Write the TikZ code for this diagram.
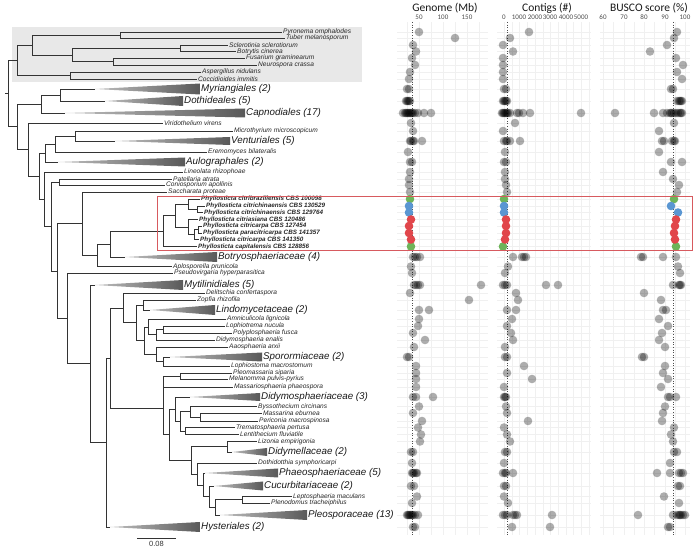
\documentclass[tikz,border=0pt]{standalone}
\usepackage{fontspec}
\setmainfont{Liberation Sans}
\newfontfamily\calib{Carlito}
\definecolor{phygreen}{RGB}{110,180,90}
\definecolor{phyblue}{RGB}{90,150,210}
\definecolor{phyred}{RGB}{225,70,75}
\definecolor{boxred}{RGB}{215,90,95}
\begin{document}
\begin{tikzpicture}
  [x=1pt,y=-1pt,
   every node/.style={inner sep=1pt},
   tip/.style={anchor=west,font=\fontsize{6.6}{7}\selectfont\itshape,text=black!85},
   phy/.style={tip,font=\fontsize{6.3}{7}\selectfont\bfseries\itshape,text=black!85},
   clade/.style={anchor=west,font=\fontsize{9.8}{10}\selectfont\itshape,text=black!90},
   branch/.style={draw=black!80,line width=0.6pt},
   wedge/.style={left color=black!25,right color=black!65,draw=none},
   gridline/.style={draw=black!6,line width=0.4pt},
   refline/.style={draw=black!70,dotted,line width=0.6pt},
   dot/.style={fill=black,fill opacity=0.32},
   title/.style={font=\calib\fontsize{11.5}{12}\selectfont,text=black!90},
   ticklab/.style={font=\calib\fontsize{7}{8}\selectfont,text=black!70}]
  \useasboundingbox (0,0) rectangle (697,553);

  % backgrounds
  \fill[black!9] (12,27) rectangle (362,82);

  % grid of the three panels
  \foreach \y in {32,38,45,51.5,58,65,72,79,89,101,113,123,131,141,152,162,172,179,185,192,199,206,212.5,219.5,226,233,239.5,246.5,257,266.5,273,285,293,300,310,319,326,333,340,347,357,366,373,379,387,397,406.5,413,421,427.5,434.5,441.5,452,463,473,486,496.5,503,515,527}
  {
    \draw[gridline] (397,\y) -- (488,\y);
    \draw[gridline] (497,\y) -- (591,\y);
    \draw[gridline] (600,\y) -- (690,\y);
  }
  \foreach \x in {407,419,431,443,455,467,479,
                  504,512,519,527,535,543,550,558,566,573,581,589,
                  603,613,624,634,644,654,665,675,685}
    \draw[gridline] (\x,22) -- (\x,535);

  \node[title] (tgen) at (445,8) {Genome (Mb)};
  \node[title] (tcon) at (547,8) {Contigs (\#)};
  \node[title] (tbus) at (649,8) {BUSCO score (\%)};
  \node[ticklab] (g50) at (419,17) {50};
  \node[ticklab] (g100) at (443,17) {100};
  \node[ticklab] (g150) at (467,17) {150};
  \node[ticklab] (c0) at (504,17) {0};
  \node[ticklab] (c1) at (519,17) {1000};
  \node[ticklab] (c2) at (535,17) {2000};
  \node[ticklab] (c3) at (550,17) {3000};
  \node[ticklab] (c4) at (566,17) {4000};
  \node[ticklab] (c5) at (581,17) {5000};
  \node[ticklab] (b60) at (603,17) {60};
  \node[ticklab] (b70) at (624,17) {70};
  \node[ticklab] (b80) at (644,17) {80};
  \node[ticklab] (b90) at (665,17) {90};
  \node[ticklab] (b100) at (685,17) {100};

  \draw[refline] (412,22) -- (412,535);
  \draw[refline] (507,22) -- (507,535);
  \draw[refline] (673,22) -- (673,535);

  % genome sizes
  \foreach \x/\y in {419/32,455/38,413/45,416/51.5,412/58,415/65,410/72,409/79,
    407/89,409/89,406/101,407/101,408/101,409/101,410/101,
    403/113,405/113,406/113,407/113,408/113,409/113,410/113,411/113,412/113,413/113,415/113,418/113,424/113,431/113,
    411/123,413/131,410/141,411/141,413/141,414/141,422/141,408/152,410/162,412/162,
    410/172,409/179,409/185,410/192,413/257,415/257,417/257,420/257,411/266.5,412/273,
    414/285,416/285,418/285,420/285,481/285,410/293,469/300,419/310,429/310,
    419/319,418/326,413/333,425/340,414/347,407/357,409/357,
    416/366,416/373,416/379,416/387,413/397,416/397,433/397,
    419/406.5,413/413,422/421,418/427.5,421/434.5,420/441.5,411/452,413/452,412/463,
    412/473,413/473,414/473,416/473,417/473,411/486,414/486,417/496.5,412/503,
    407/515,408/515,409/515,410/515,411/515,412/515,413/515,415/515,418/515,413/527,415/527}
    \fill[dot] (\x,\y) circle[radius=4.3];
  % contigs
  \foreach \x/\y in {529/32,510/38,503/45,513/51.5,503/58,503/65,503/72,503/79,
    504/89,506/89,503/101,504/101,505/101,506/101,507/101,
    502/113,503/113,504/113,505/113,506/113,507/113,508/113,510/113,517/113,519/113,523/113,530/113,581/113,
    515/123,503/131,504/141,506/141,507/141,510/141,520/141,505/152,504/162,506/162,
    505/172,505/179,506/185,507/192,513/257,522/257,524/257,526/257,508/266.5,505/273,
    503/285,505/285,507/285,546/285,558/285,516/293,518/300,507/310,516/310,
    512/319,507/326,511/333,513/340,505/347,505/357,507/357,
    524/366,507/373,532/379,504/387,504/397,505/397,506/397,
    506/406.5,507/413,528/421,504/427.5,507/434.5,510/441.5,505/452,507/452,504/463,
    503/473,505/473,506/473,513/473,504/486,506/486,504/496.5,508/503,
    503/515,505/515,507/515,513/515,515/515,517/515,552/515,512/527,550/527}
    \fill[dot] (\x,\y) circle[radius=4.3];
  % BUSCO
  \foreach \x/\y in {677/32,674/38,667/45,650/51.5,676/58,683/65,677/72,682/79,
    671/89,673/89,677/101,679/101,680/101,681/101,682/101,
    615/113,654/113,663/113,667/113,670/113,671/113,672/113,674/113,676/113,678/113,680/113,681/113,682/113,
    674/123,659/131,662/141,664/141,672/141,674/141,675/141,659/152,671/162,682/162,
    663/172,673/179,679/185,677/192,641/257,643/257,663/257,676/257,678/266.5,680/273,
    673/285,679/285,680/285,681/285,644/293,661/300,663/310,666/310,
    659/319,668/326,662/333,659/340,665/347,642/357,644/357,
    665/366,663/373,668/379,661/387,668/397,670/397,676/397,
    665/406.5,663/413,662/421,674/427.5,671/434.5,673/441.5,674/452,677/452,670/463,
    657/473,670/473,679/473,681/473,683/473,678/486,680/486,664/496.5,679/503,
    638/515,673/515,677/515,679/515,680/515,681/515,683/515,685/515,668/527,670/527}
    \fill[dot] (\x,\y) circle[radius=4.3];
  % Phyllosticta
  \foreach \x/\y in {410/199,411/246.5,504/199,503/246.5,674/199,676/246.5}
    \fill[phygreen] (\x,\y) circle[radius=4.3];
  \foreach \x/\y in {409/206,409/212.5,504/206,504/212.5,671/206,678/212.5}
    \fill[phyblue] (\x,\y) circle[radius=4.3];
  \foreach \x/\y in {411/219.5,409/226,409/233,411/239.5,506/219.5,506/226,506/233,505/239.5,
                     676/219.5,675/226,674/233,675/239.5}
    \fill[phyred] (\x,\y) circle[radius=4.3];

  % tips
  \node[tip] (pyro) at (282,32) {Pyronema omphalodes};
  \node[tip] (tuber) at (285,38) {Tuber melanosporum};
  \node[tip] (scler) at (228,45) {Sclerotinia sclerotiorum};
  \node[tip] (botry) at (236,51.5) {Botrytis cinerea};
  \node[tip] (fusar) at (245,58) {Fusarium graminearum};
  \node[tip] (neuro) at (257,65) {Neurospora crassa};
  \node[tip] (asper) at (201,72) {Aspergillus nidulans};
  \node[tip] (cocci) at (197,79) {Coccidioides immitis};
  \node[tip] (virid) at (163,123) {Viridothelium virens};
  \node[tip] (micro) at (233,131) {Microthyrium microscopicum};
  \node[tip] (eremo) at (207,152) {Eremomyces bilateralis};
  \node[tip] (lineo) at (183,172) {Lineolata rhizophoae};
  \node[tip] (patel) at (172,179) {Patellaria atrata};
  \node[tip] (conio) at (165,185) {Coniosporium apollinis};
  \node[tip] (sacch) at (167,192) {Saccharata proteae};
  \node[phy] (p1) at (200,199) {Phyllosticta citribraziliensis CBS 100098};
  \node[phy] (p2) at (205,206) {Phyllosticta citrichinaensis CBS 130529};
  \node[phy] (p3) at (203,212.5) {Phyllosticta citrichinaensis CBS 129764};
  \node[phy] (p4) at (198,219.5) {Phyllosticta citriasiana CBS 120486};
  \node[phy] (p5) at (202,226) {Phyllosticta citricarpa CBS 127454};
  \node[phy] (p6) at (202,233) {Phyllosticta paracitricarpa CBS 141357};
  \node[phy] (p7) at (199,239.5) {Phyllosticta citricarpa CBS 141350};
  \node[phy] (p8) at (197,246.5) {Phyllosticta capitalensis CBS 128856};
  \node[tip] (aplos) at (172,266.5) {Aplosporella prunicola};
  \node[tip] (pseud) at (173,273) {Pseudovirgaria hyperparasitica};
  \node[tip] (delit) at (205,293) {Delitschia confertaspora};
  \node[tip] (zopf) at (196,300) {Zopfia rhizofila};
  \node[tip] (amnic) at (226,319) {Amniculicola lignicola};
  \node[tip] (lophi) at (225,326) {Lophiotrema nucula};
  \node[tip] (polyp) at (232,333) {Polyplosphaeria fusca};
  \node[tip] (didy) at (215,340) {Didymosphaeria enalis};
  \node[tip] (aaos) at (228,347) {Aaosphaeria arxii};
  \node[tip] (lophio) at (230,366) {Lophiostoma macrostomum};
  \node[tip] (pleom) at (232,373) {Pleomassaria siparia};
  \node[tip] (melan) at (228,379) {Melanomma pulvis-pyrius};
  \node[tip] (massa) at (233,387) {Massariosphaeria phaeospora};
  \node[tip] (bysso) at (257,406.5) {Byssothecium circinans};
  \node[tip] (masr) at (262,413) {Massarina eburnea};
  \node[tip] (peric) at (258,421) {Periconia macrospinosa};
  \node[tip] (trema) at (235,427.5) {Trematosphaeria pertusa};
  \node[tip] (lenti) at (239,434.5) {Lentithecium fluviatile};
  \node[tip] (lizon) at (257,441.5) {Lizonia empirigonia};
  \node[tip] (dothi) at (257,463) {Dothidotthia symphoricarpi};
  \node[tip] (lepto) at (292,496.5) {Leptosphaeria maculans};
  \node[tip] (pleno) at (270,503) {Plenodomus tracheiphilus};

  % collapsed clades
  \node[clade] (myri) at (200,89) {Myriangiales (2)};
  \node[clade] (doth) at (183,101) {Dothideales (5)};
  \node[clade] (capno) at (245,113) {Capnodiales (17)};
  \node[clade] (ventu) at (230,141) {Venturiales (5)};
  \node[clade] (aulo) at (185,162) {Aulographales (2)};
  \node[clade] (botryo) at (217,257) {Botryosphaeriaceae (4)};
  \node[clade] (myti) at (183,285) {Mytilinidiales (5)};
  \node[clade] (lindo) at (215,310) {Lindomycetaceae (2)};
  \node[clade] (sporo) at (262,357) {Sporormiaceae (2)};
  \node[clade] (dsph) at (260,397) {Didymosphaeriaceae (3)};
  \node[clade] (dmel) at (267,452) {Didymellaceae (2)};
  \node[clade] (phaeo) at (278,473) {Phaeosphaeriaceae (5)};
  \node[clade] (cucu) at (263,486) {Cucurbitariaceae (2)};
  \node[clade] (pleos) at (307,515) {Pleosporaceae (13)};
  \node[clade] (hyst) at (200,527) {Hysteriales (2)};

  \coordinate (myriA) at (95,89);
  \coordinate (dothA) at (105,101);
  \coordinate (capnoA) at (65,113);
  \coordinate (ventuA) at (115,141);
  \coordinate (auloA) at (58,162);
  \coordinate (botryoA) at (125,257);
  \coordinate (mytiA) at (95,285);
  \coordinate (lindoA) at (150,310);
  \coordinate (sporoA) at (170,357);
  \coordinate (dsphA) at (190,397);
  \coordinate (dmelA) at (232,452);
  \coordinate (phaeoA) at (205,473);
  \coordinate (cucuA) at (214,486);
  \coordinate (pleosA) at (220,515);
  \coordinate (hystA) at (110,527);

  \shade[wedge] (myriA) -- ([yshift=5.5pt]myri.west) -- ([yshift=-5.5pt]myri.west) -- cycle;
  \shade[wedge] (dothA) -- ([yshift=5pt]doth.west) -- ([yshift=-5pt]doth.west) -- cycle;
  \shade[wedge] (capnoA) -- ([yshift=4.5pt]capno.west) -- ([yshift=-4.5pt]capno.west) -- cycle;
  \shade[wedge] (ventuA) -- ([yshift=4pt]ventu.west) -- ([yshift=-4pt]ventu.west) -- cycle;
  \shade[wedge] (auloA) -- ([yshift=4.5pt]aulo.west) -- ([yshift=-4.5pt]aulo.west) -- cycle;
  \shade[wedge] (botryoA) -- ([yshift=5pt]botryo.west) -- ([yshift=-5pt]botryo.west) -- cycle;
  \shade[wedge] (mytiA) -- ([yshift=5pt]myti.west) -- ([yshift=-5pt]myti.west) -- cycle;
  \shade[wedge] (lindoA) -- ([yshift=5pt]lindo.west) -- ([yshift=-5pt]lindo.west) -- cycle;
  \shade[wedge] (sporoA) -- ([yshift=4.5pt]sporo.west) -- ([yshift=-4.5pt]sporo.west) -- cycle;
  \shade[wedge] (dsphA) -- ([yshift=4pt]dsph.west) -- ([yshift=-4pt]dsph.west) -- cycle;
  \shade[wedge] (dmelA) -- ([yshift=4pt]dmel.west) -- ([yshift=-4pt]dmel.west) -- cycle;
  \shade[wedge] (phaeoA) -- ([yshift=4.5pt]phaeo.west) -- ([yshift=-4.5pt]phaeo.west) -- cycle;
  \shade[wedge] (cucuA) -- ([yshift=4.5pt]cucu.west) -- ([yshift=-4.5pt]cucu.west) -- cycle;
  \shade[wedge] (pleosA) -- ([yshift=5pt]pleos.west) -- ([yshift=-5pt]pleos.west) -- cycle;
  \shade[wedge] (hystA) -- ([yshift=5pt]hyst.west) -- ([yshift=-5pt]hyst.west) -- cycle;

  % internal nodes
  \coordinate (nPT) at (120,35);
  \coordinate (nSB) at (180,48.25);
  \coordinate (nFN) at (113,61.5);
  \coordinate (nLS) at (72,54.9);
  \coordinate (nPz) at (32,44.9);
  \coordinate (nEu) at (70,75.5);
  \coordinate (nOut) at (17,60.2);
  \coordinate (nMD) at (60,95);
  \coordinate (nDth) at (41,104);
  \coordinate (nMV) at (75,136);
  \coordinate (nEr) at (55,144);
  \coordinate (nAu) at (45,153);
  \coordinate (nPC) at (59,182);
  \coordinate (nCC) at (197,209.25);
  \coordinate (nBr) at (188,204.1);
  \coordinate (nC1) at (198,229.5);
  \coordinate (nC2) at (194,234.5);
  \coordinate (nC3) at (188,227);
  \coordinate (nAs) at (175,215.5);
  \coordinate (nPhy) at (163,231);
  \coordinate (nBot) at (110,244);
  \coordinate (nApl) at (97,255.2);
  \coordinate (nSac) at (82,223.6);
  \coordinate (nZL) at (143,305);
  \coordinate (nLP) at (163,329.5);
  \coordinate (nDE) at (156,334.8);
  \coordinate (nAm) at (148,326.9);
  \coordinate (nSL) at (163,361.5);
  \coordinate (nAa) at (156,354.2);
  \coordinate (nLo) at (144,340.6);
  \coordinate (nZ) at (136,322.8);
  \coordinate (nUp) at (123,307.9);
  \coordinate (nPM) at (180,376);
  \coordinate (nMa) at (163,381.5);
  \coordinate (nMP) at (200,417);
  \coordinate (nBy) at (190,411.75);
  \coordinate (nTL) at (185,431);
  \coordinate (nMs) at (180,421.4);
  \coordinate (nDy) at (175,409.2);
  \coordinate (nLe) at (242,499.75);
  \coordinate (nPl) at (215,507.4);
  \coordinate (nCu) at (209,496.7);
  \coordinate (nPh) at (203,484.9);
  \coordinate (nDt) at (197,473.9);
  \coordinate (nDi) at (227,446.75);
  \coordinate (nPn) at (191,460.3);
  \coordinate (nQ) at (169,434.8);
  \coordinate (nLow) at (163,408.2);
  \coordinate (nPleo) at (110,358);
  \coordinate (nHy) at (106,442.5);
  \coordinate (nMy) at (90,363.8);
  \coordinate (nPs) at (67,318.4);
  \coordinate (nLw) at (57,271);
  \coordinate (nC) at (51,226.5);
  \coordinate (nB) at (44,199.3);
  \coordinate (nA) at (39,176.1);
  \coordinate (nVi) at (28,149.6);
  \coordinate (nD) at (17,126.8);
  \coordinate (nRoot) at (8,93.5);

  % branches
  \draw[branch] (nPT) |- (pyro.west);  \draw[branch] (nPT) |- (tuber.west);
  \draw[branch] (nSB) |- (scler.west); \draw[branch] (nSB) |- (botry.west);
  \draw[branch] (nFN) |- (fusar.west); \draw[branch] (nFN) |- (neuro.west);
  \draw[branch] (nLS) |- (nSB);        \draw[branch] (nLS) |- (nFN);
  \draw[branch] (nPz) |- (nPT);        \draw[branch] (nPz) |- (nLS);
  \draw[branch] (nEu) |- (asper.west); \draw[branch] (nEu) |- (cocci.west);
  \draw[branch] (nOut) |- (nPz);       \draw[branch] (nOut) |- (nEu);
  \draw[branch] (nMD) |- (myriA);      \draw[branch] (nMD) |- (dothA);
  \draw[branch] (nDth) |- (nMD);       \draw[branch] (nDth) |- (capnoA);
  \draw[branch] (nMV) |- (micro.west); \draw[branch] (nMV) |- (ventuA);
  \draw[branch] (nEr) |- (nMV);        \draw[branch] (nEr) |- (eremo.west);
  \draw[branch] (nAu) |- (nEr);        \draw[branch] (nAu) |- (auloA);
  \draw[branch] (nPC) |- (patel.west); \draw[branch] (nPC) |- (conio.west);
  \draw[branch] (nCC) |- (p2.west);    \draw[branch] (nCC) |- (p3.west);
  \draw[branch] (nBr) |- (p1.west);    \draw[branch] (nBr) |- (nCC);
  \draw[branch] (nC1) |- (p5.west);    \draw[branch] (nC1) |- (p6.west);
  \draw[branch] (nC2) |- (nC1);        \draw[branch] (nC2) |- (p7.west);
  \draw[branch] (nC3) |- (p4.west);    \draw[branch] (nC3) |- (nC2);
  \draw[branch] (nAs) |- (nBr);        \draw[branch] (nAs) |- (nC3);
  \draw[branch] (nPhy) |- (nAs);       \draw[branch] (nPhy) |- (p8.west);
  \draw[branch] (nBot) |- (nPhy);      \draw[branch] (nBot) |- (botryoA);
  \draw[branch] (nApl) |- (nBot);      \draw[branch] (nApl) |- (aplos.west);
  \draw[branch] (nSac) |- (sacch.west);\draw[branch] (nSac) |- (nApl);
  \draw[branch] (nZL) |- (zopf.west);  \draw[branch] (nZL) |- (lindoA);
  \draw[branch] (nLP) |- (lophi.west); \draw[branch] (nLP) |- (polyp.west);
  \draw[branch] (nDE) |- (nLP);        \draw[branch] (nDE) |- (didy.west);
  \draw[branch] (nAm) |- (amnic.west); \draw[branch] (nAm) |- (nDE);
  \draw[branch] (nSL) |- (sporoA);     \draw[branch] (nSL) |- (lophio.west);
  \draw[branch] (nAa) |- (aaos.west);  \draw[branch] (nAa) |- (nSL);
  \draw[branch] (nLo) |- (nAm);        \draw[branch] (nLo) |- (nAa);
  \draw[branch] (nZ) |- (nZL);         \draw[branch] (nZ) |- (nLo);
  \draw[branch] (nUp) |- (delit.west); \draw[branch] (nUp) |- (nZ);
  \draw[branch] (nPM) |- (pleom.west); \draw[branch] (nPM) |- (melan.west);
  \draw[branch] (nMa) |- (nPM);        \draw[branch] (nMa) |- (massa.west);
  \draw[branch] (nMP) |- (masr.west);  \draw[branch] (nMP) |- (peric.west);
  \draw[branch] (nBy) |- (bysso.west); \draw[branch] (nBy) |- (nMP);
  \draw[branch] (nTL) |- (trema.west); \draw[branch] (nTL) |- (lenti.west);
  \draw[branch] (nMs) |- (nBy);        \draw[branch] (nMs) |- (nTL);
  \draw[branch] (nDy) |- (dsphA);      \draw[branch] (nDy) |- (nMs);
  \draw[branch] (nLe) |- (lepto.west); \draw[branch] (nLe) |- (pleno.west);
  \draw[branch] (nPl) |- (nLe);        \draw[branch] (nPl) |- (pleosA);
  \draw[branch] (nCu) |- (cucuA);      \draw[branch] (nCu) |- (nPl);
  \draw[branch] (nPh) |- (phaeoA);     \draw[branch] (nPh) |- (nCu);
  \draw[branch] (nDt) |- (dothi.west); \draw[branch] (nDt) |- (nPh);
  \draw[branch] (nDi) |- (lizon.west); \draw[branch] (nDi) |- (dmelA);
  \draw[branch] (nPn) |- (nDi);        \draw[branch] (nPn) |- (nDt);
  \draw[branch] (nQ) |- (nDy);         \draw[branch] (nQ) |- (nPn);
  \draw[branch] (nLow) |- (nMa);       \draw[branch] (nLow) |- (nQ);
  \draw[branch] (nPleo) |- (nUp);      \draw[branch] (nPleo) |- (nLow);
  \draw[branch] (nHy) |- (nPleo);      \draw[branch] (nHy) |- (hystA);
  \draw[branch] (nMy) |- (mytiA);      \draw[branch] (nMy) |- (nHy);
  \draw[branch] (nPs) |- (pseud.west); \draw[branch] (nPs) |- (nMy);
  \draw[branch] (nLw) |- (nSac);       \draw[branch] (nLw) |- (nPs);
  \draw[branch] (nC) |- (nPC);         \draw[branch] (nC) |- (nLw);
  \draw[branch] (nB) |- (lineo.west);  \draw[branch] (nB) |- (nC);
  \draw[branch] (nA) |- (nAu);         \draw[branch] (nA) |- (nB);
  \draw[branch] (nVi) |- (virid.west); \draw[branch] (nVi) |- (nA);
  \draw[branch] (nD) |- (nDth);        \draw[branch] (nD) |- (nVi);
  \draw[branch] (nRoot) |- (nOut);     \draw[branch] (nRoot) |- (nD);
  \draw[branch] (nRoot) -- ++(-3,0);

  % selected strains
  \draw[boxred,line width=0.8pt] (157,196) rectangle (692,250);

  % scale bar
  \coordinate (sbL) at (137,538);
  \coordinate (sbR) at (176,538);
  \draw[black!80,line width=0.6pt] (sbL) -- (sbR) node[midway,below=2pt,font=\fontsize{7.5}{8}\selectfont] (sbtext) {0.08};
\end{tikzpicture}
\end{document}
